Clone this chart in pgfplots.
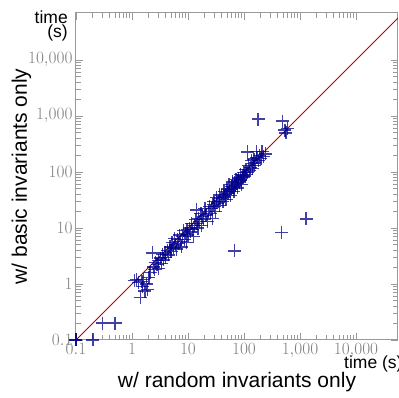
\documentclass[border=0pt]{standalone}
\usepackage{fontspec}
\setsansfont{Liberation Sans}
\usepackage{pgfplots}
\pgfplotsset{compat=1.18}
\definecolor{navyb}{RGB}{0,0,139}
\definecolor{redl}{RGB}{180,0,0}
\begin{document}
\begin{tikzpicture}
\begin{axis}[
  at={(0,0)}, anchor=south west,
  scale only axis, width=322pt, height=327pt,
  xmode=log, ymode=log,
  xmin=0.1, xmax=56234, ymin=0.1, ymax=69183,
  log ticks with fixed point,
  xtick={0.1,1,10,100,1000,10000},
  ytick={0.1,1,10,100,1000,10000},
  axis line style={draw=gray!80, line width=1pt},
  tick style={draw=gray!80, line width=0.8pt},
  major tick length=7pt, minor tick length=5pt,
  tick label style={font=\fontsize{16.5}{19}\selectfont, text=gray},
  clip=true,
]
\addplot[only marks, mark=+, mark size=6.5pt, mark options={line width=1.3pt, draw=navyb, draw opacity=0.75}] coordinates {
(0.1,0.1) (0.1,0.1) (0.2,0.1) (0.3,0.2) (0.5,0.2)
(1.1,1.15) (1.2,1.2) (1.3,1.05) (1.4,0.58) (1.5,1.1) (1.55,0.9) (1.6,1.2) (1.7,0.75) (1.8,1.0) (1.9,0.8)
(2.0,1.3) (2.1,1.6) (2.3,3.6) (2.4,2.0) (2.5,1.8) (2.6,2.4) (2.8,2.2) (3.0,2.6) (3.0,1.9) (3.2,2.9)
(3.4,2.3) (3.5,3.4) (3.7,2.7) (3.9,3.6) (4.0,3.0) (4.3,4.0) (4.5,3.3) (4.8,4.6) (5.0,3.8) (5.2,5.5)
(5.5,4.4) (5.8,6.5) (6.0,5.0) (6.3,4.2) (6.5,6.2) (6.8,5.3) (7.0,7.5) (7.3,5.8) (7.6,4.6) (8.0,7.0)
(8.3,9.0) (8.6,6.3) (9.0,8.0) (9.3,5.5) (9.6,9.5) (10,7.5) (10.5,10) (11,8.5) (11.5,12) (12,9.5)
(12.5,7.0) (13,11) (13.5,14) (14,21) (14.5,12) (15,10) (15.5,15) (16,13) (17,18) (17.5,11)
(18,16) (19,14) (20,22) (21,17) (22,13) (23,20) (24,24) (25,18) (26,22) (27,15)
(28,26) (29,30) (30,24) (31,20) (32,35) (33,28) (35,30) (36,40) (37,25) (38,34)
(40,38) (42,30) (44,45) (45,36) (47,40) (48,32) (50,50) (52,42) (54,60) (55,46)
(57,38) (59,55) (60,50) (62,68) (64,54) (66,45) (68,65) (70,58) (72,74) (74,62)
(76,52) (78,70) (80,78) (83,66) (86,90) (88,72) (90,60) (93,85) (96,80) (100,98)
(104,85) (108,110) (112,90) (116,100) (120,130) (125,105) (130,120) (135,160) (140,115) (145,140)
(150,170) (155,130) (160,150) (165,230) (170,180) (180,160) (190,200) (200,175) (210,230) (220,190)
(240,210) (117,229) (178,884) (483,813) (537,560) (560,500) (590,600)
(67,3.9) (471,8.2) (1280,14.5)
};
\addplot[color=redl, line width=1pt] coordinates {(0.1,0.1) (100000,100000)};
\end{axis}
\node[anchor=base, font=\sffamily\fontsize{21}{25}\selectfont] at (161pt,-48pt) {w/ random invariants only};
\node[anchor=base, rotate=90, font=\sffamily\fontsize{21}{25}\selectfont] at (-49pt,163.5pt) {w/ basic invariants only};
\node[anchor=north east, align=right, inner sep=0pt, font=\sffamily\fontsize{17.5}{14}\selectfont] at (-8pt,329pt) {time\\(s)};
\node[anchor=base west, inner sep=0pt, font=\sffamily\fontsize{17.5}{20}\selectfont] at (268pt,-29pt) {time (s)};
\pgfresetboundingbox
\path (-76pt,-58pt) rectangle (323pt,340pt);
\end{tikzpicture}
\end{document}
